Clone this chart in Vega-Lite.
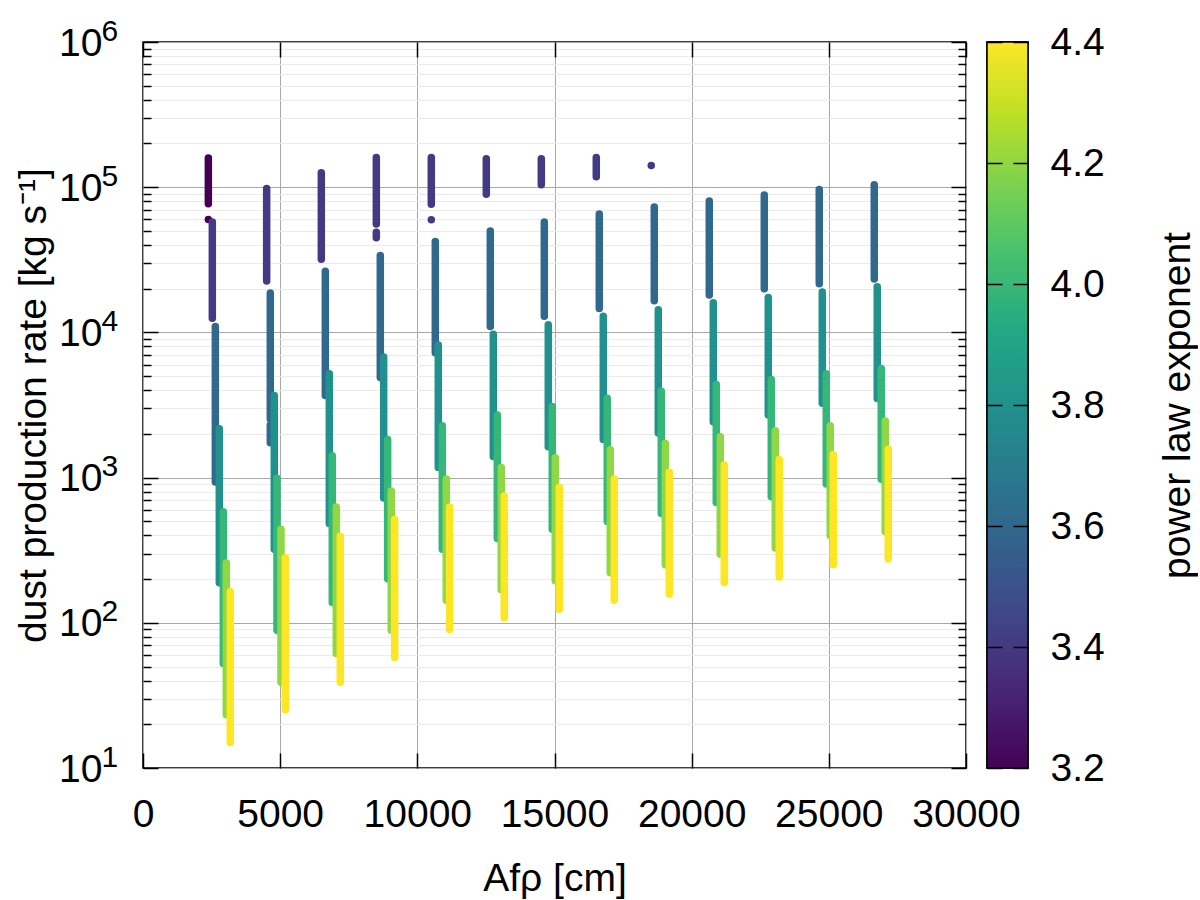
{
  "$schema": "https://vega.github.io/schema/vega-lite/v6.json",
  "padding": {"left": 13, "top": 15, "right": 0, "bottom": 0},
  "bounds": "flush",
  "spacing": 21,
  "datasets": {
    "strips": [
      {"a": 2382, "lo": 77000, "hi": 159000, "p": 3.2},
      {"a": 2382, "lo": 60000, "hi": 60000, "p": 3.2},
      {"a": 2527, "lo": 12500, "hi": 57700, "p": 3.4},
      {"a": 2637, "lo": 931, "hi": 11000, "p": 3.6},
      {"a": 2782, "lo": 189, "hi": 2170, "p": 3.8},
      {"a": 2928, "lo": 52.5, "hi": 582, "p": 4.0},
      {"a": 3036, "lo": 23.3, "hi": 258, "p": 4.2},
      {"a": 3182, "lo": 15.0, "hi": 164, "p": 4.4},
      {"a": 4508, "lo": 22600, "hi": 98000, "p": 3.4},
      {"a": 4640, "lo": 2530, "hi": 18700, "p": 3.6},
      {"a": 4640, "lo": 1740, "hi": 2300, "p": 3.6},
      {"a": 4786, "lo": 321, "hi": 3680, "p": 3.8},
      {"a": 4884, "lo": 89, "hi": 991, "p": 4.0},
      {"a": 5030, "lo": 39, "hi": 440, "p": 4.2},
      {"a": 5187, "lo": 25.2, "hi": 281, "p": 4.4},
      {"a": 6500, "lo": 31900, "hi": 126000, "p": 3.4},
      {"a": 6646, "lo": 3680, "hi": 26400, "p": 3.6},
      {"a": 6791, "lo": 483, "hi": 5200, "p": 3.8},
      {"a": 6900, "lo": 138, "hi": 1416, "p": 4.0},
      {"a": 7046, "lo": 61.4, "hi": 628, "p": 4.2},
      {"a": 7192, "lo": 39, "hi": 395, "p": 4.4},
      {"a": 8505, "lo": 55900, "hi": 160000, "p": 3.4},
      {"a": 8505, "lo": 44900, "hi": 49000, "p": 3.4},
      {"a": 8650, "lo": 4890, "hi": 33900, "p": 3.6},
      {"a": 8773, "lo": 724, "hi": 6760, "p": 3.8},
      {"a": 8918, "lo": 201, "hi": 1828, "p": 4.0},
      {"a": 9050, "lo": 89, "hi": 807, "p": 4.2},
      {"a": 9173, "lo": 57.7, "hi": 514, "p": 4.4},
      {"a": 10509, "lo": 76400, "hi": 160000, "p": 3.4},
      {"a": 10509, "lo": 59600, "hi": 59600, "p": 3.4},
      {"a": 10655, "lo": 7240, "hi": 42200, "p": 3.6},
      {"a": 10764, "lo": 1175, "hi": 8200, "p": 3.8},
      {"a": 10910, "lo": 321, "hi": 2275, "p": 4.0},
      {"a": 11055, "lo": 143, "hi": 979, "p": 4.2},
      {"a": 11176, "lo": 90, "hi": 628, "p": 4.4},
      {"a": 12514, "lo": 89400, "hi": 157000, "p": 3.4},
      {"a": 12660, "lo": 11000, "hi": 50000, "p": 3.6},
      {"a": 12769, "lo": 1400, "hi": 9700, "p": 3.8},
      {"a": 12915, "lo": 381, "hi": 2700, "p": 4.0},
      {"a": 13060, "lo": 169, "hi": 1175, "p": 4.2},
      {"a": 13169, "lo": 108, "hi": 748, "p": 4.4},
      {"a": 14519, "lo": 104000, "hi": 157000, "p": 3.4},
      {"a": 14628, "lo": 12900, "hi": 57700, "p": 3.6},
      {"a": 14773, "lo": 1634, "hi": 11300, "p": 3.8},
      {"a": 14919, "lo": 440, "hi": 3090, "p": 4.0},
      {"a": 15028, "lo": 195, "hi": 1372, "p": 4.2},
      {"a": 15174, "lo": 124, "hi": 859, "p": 4.4},
      {"a": 16523, "lo": 118000, "hi": 160000, "p": 3.4},
      {"a": 16632, "lo": 14600, "hi": 65400, "p": 3.6},
      {"a": 16778, "lo": 1828, "hi": 12900, "p": 3.8},
      {"a": 16924, "lo": 499, "hi": 3520, "p": 4.0},
      {"a": 17033, "lo": 221, "hi": 1555, "p": 4.2},
      {"a": 17179, "lo": 143, "hi": 979, "p": 4.4},
      {"a": 18527, "lo": 141000, "hi": 141000, "p": 3.4},
      {"a": 18637, "lo": 16500, "hi": 73100, "p": 3.6},
      {"a": 18783, "lo": 2030, "hi": 14300, "p": 3.8},
      {"a": 18892, "lo": 565, "hi": 3930, "p": 4.0},
      {"a": 19038, "lo": 251, "hi": 1717, "p": 4.2},
      {"a": 19184, "lo": 157, "hi": 1088, "p": 4.4},
      {"a": 20642, "lo": 18100, "hi": 80400, "p": 3.6},
      {"a": 20788, "lo": 2420, "hi": 16000, "p": 3.8},
      {"a": 20897, "lo": 673, "hi": 4370, "p": 4.0},
      {"a": 21043, "lo": 297, "hi": 1910, "p": 4.2},
      {"a": 21189, "lo": 189, "hi": 1219, "p": 4.4},
      {"a": 22647, "lo": 20000, "hi": 88300, "p": 3.6},
      {"a": 22793, "lo": 2700, "hi": 17400, "p": 3.8},
      {"a": 22902, "lo": 739, "hi": 4730, "p": 4.0},
      {"a": 23048, "lo": 328, "hi": 2100, "p": 4.2},
      {"a": 23193, "lo": 207, "hi": 1330, "p": 4.4},
      {"a": 24651, "lo": 21600, "hi": 96300, "p": 3.6},
      {"a": 24761, "lo": 3250, "hi": 19000, "p": 3.8},
      {"a": 24906, "lo": 902, "hi": 5200, "p": 4.0},
      {"a": 25052, "lo": 400, "hi": 2275, "p": 4.2},
      {"a": 25161, "lo": 251, "hi": 1443, "p": 4.4},
      {"a": 26656, "lo": 23300, "hi": 104000, "p": 3.6},
      {"a": 26765, "lo": 3510, "hi": 20600, "p": 3.8},
      {"a": 26911, "lo": 973, "hi": 5640, "p": 4.0},
      {"a": 27057, "lo": 426, "hi": 2450, "p": 4.2},
      {"a": 27166, "lo": 275, "hi": 1565, "p": 4.4}
    ],
    "bar": [{"lo": 3.2, "hi": 4.4, "l": 0, "r": 1}]
  },
  "hconcat": [
    {
      "width": 823,
      "height": 726,
      "data": {"name": "strips"},
      "layer": [
        {
          "mark": {"type": "rule", "opacity": 0},
          "encoding": {
            "x": {"field": "a", "type": "quantitative", "scale": {"domain": [0, 30000], "nice": false, "zero": false}, "axis": null},
            "y": {"field": "hi", "type": "quantitative", "scale": {"type": "log", "domain": [10, 1000000], "nice": false},
              "axis": {"orient": "left", "values": [20, 30, 40, 50, 60, 70, 80, 90, 200, 300, 400, 500, 600, 700, 800, 900, 2000, 3000, 4000, 5000, 6000, 7000, 8000, 9000, 20000, 30000, 40000, 50000, 60000, 70000, 80000, 90000, 200000, 300000, 400000, 500000, 600000, 700000, 800000, 900000],
                "labels": false, "tickSize": -8, "domain": false, "grid": true, "gridColor": "#ebebeb", "gridWidth": 1, "title": null}},
            "y2": {"field": "lo"}
          }
        },
        {
          "mark": {"type": "rule", "strokeWidth": 7.5, "strokeCap": "round"},
          "encoding": {
            "x": {"field": "a", "type": "quantitative", "scale": {"domain": [0, 30000], "nice": false, "zero": false},
              "axis": {"orient": "bottom", "values": [0, 5000, 10000, 15000, 20000, 25000, 30000], "format": "d", "ticks": false, "domain": false,
                "grid": true, "gridColor": "#a9a9a9", "gridWidth": 1, "labelPadding": 27, "title": "Afρ [cm]", "titlePadding": 25}},
            "y": {"field": "hi", "type": "quantitative", "scale": {"type": "log", "domain": [10, 1000000], "nice": false},
              "axis": {"orient": "left", "values": [10, 100, 1000, 10000, 100000, 1000000], "labelExpr": "'10'", "ticks": false, "domain": false,
                "grid": true, "gridColor": "#a9a9a9", "gridWidth": 1, "labelPadding": 41, "labelOffset": 1, "title": "dust production rate [kg s⁻¹]", "titlePadding": 5}},
            "y2": {"field": "lo"},
            "color": {"field": "p", "type": "quantitative", "scale": {"scheme": "viridis", "domain": [3.2, 4.4]}, "legend": null}
          }
        },
        {
          "mark": {"type": "rule", "opacity": 0},
          "encoding": {
            "x": {"field": "a", "type": "quantitative", "axis": {"orient": "bottom", "values": [0, 5000, 10000, 15000, 20000, 25000, 30000], "labels": false, "tickSize": -15, "domain": false, "grid": false, "title": null}},
            "y": {"field": "hi", "type": "quantitative", "axis": {"orient": "left", "values": [10, 100, 1000, 10000, 100000, 1000000], "labels": false, "tickSize": -15, "domain": false, "grid": false, "title": null}},
            "y2": {"field": "lo"}
          }
        },
        {
          "mark": {"type": "rule", "opacity": 0},
          "encoding": {
            "x": {"field": "a", "type": "quantitative", "axis": {"orient": "top", "values": [0, 5000, 10000, 15000, 20000, 25000, 30000], "labels": false, "tickSize": -15, "domain": false, "grid": false, "title": null}},
            "y": {"field": "hi", "type": "quantitative", "axis": {"orient": "right", "values": [10, 100, 1000, 10000, 100000, 1000000], "labels": false, "tickSize": -15, "domain": false, "grid": false, "title": null}},
            "y2": {"field": "lo"}
          }
        },
        {
          "mark": {"type": "rule", "opacity": 0},
          "encoding": {
            "x": {"field": "a", "type": "quantitative", "axis": null},
            "y": {"field": "hi", "type": "quantitative",
              "axis": {"orient": "right", "values": [20, 30, 40, 50, 60, 70, 80, 90, 200, 300, 400, 500, 600, 700, 800, 900, 2000, 3000, 4000, 5000, 6000, 7000, 8000, 9000, 20000, 30000, 40000, 50000, 60000, 70000, 80000, 90000, 200000, 300000, 400000, 500000, 600000, 700000, 800000, 900000],
                "labels": false, "tickSize": -8, "domain": false, "grid": false, "title": null}},
            "y2": {"field": "lo"}
          }
        },
        {
          "mark": {"type": "rule", "opacity": 0},
          "encoding": {
            "x": {"field": "a", "type": "quantitative", "axis": null},
            "y": {"field": "hi", "type": "quantitative",
              "axis": {"orient": "left", "values": [10, 100, 1000, 10000, 100000, 1000000], "ticks": false, "domain": false, "grid": false,
                "labelExpr": "'' + round(log(datum.value) / LN10)", "labelFontSize": 30, "labelAlign": "left", "labelPadding": 42, "labelOffset": -11, "title": null}},
            "y2": {"field": "lo"}
          }
        }
      ],
      "resolve": {"axis": {"x": "independent", "y": "independent"}}
    },
    {
      "width": 41,
      "height": 726,
      "data": {"name": "bar"},
      "encoding": {
        "x": {"field": "l", "type": "quantitative", "scale": {"domain": [0, 1], "nice": false, "zero": false}, "axis": null},
        "x2": {"field": "r"},
        "y2": {"field": "hi"}
      },
      "layer": [
        {
          "mark": {"type": "rect", "stroke": "black", "strokeWidth": 1.5,
            "fill": {"gradient": "linear", "x1": 0, "y1": 1, "x2": 0, "y2": 0,
              "stops": [
                {"offset": 0, "color": "#440154"}, {"offset": 0.1, "color": "#482475"}, {"offset": 0.2, "color": "#414487"},
                {"offset": 0.3, "color": "#355f8d"}, {"offset": 0.4, "color": "#2a788e"}, {"offset": 0.5, "color": "#21918c"},
                {"offset": 0.6, "color": "#22a884"}, {"offset": 0.7, "color": "#44bf70"}, {"offset": 0.8, "color": "#7ad151"},
                {"offset": 0.9, "color": "#bddf26"}, {"offset": 1, "color": "#fde725"}
              ]}},
          "encoding": {
            "y": {"field": "lo", "type": "quantitative", "scale": {"domain": [3.2, 4.4], "nice": false, "zero": false},
              "axis": {"orient": "right", "values": [3.2, 3.4, 3.6, 3.8, 4.0, 4.2, 4.4], "format": ".1f", "ticks": false, "domain": false, "grid": false,
                "labelPadding": 22, "title": "power law exponent", "titleAngle": 270, "titleBaseline": "top", "titlePadding": 54, "zindex": 1}}
          }
        },
        {
          "mark": {"type": "rect", "opacity": 0},
          "encoding": {
            "y": {"field": "lo", "type": "quantitative", "axis": {"orient": "left", "values": [3.2, 3.4, 3.6, 3.8, 4.0, 4.2, 4.4], "labels": false, "tickSize": -15, "domain": false, "grid": false, "title": null, "zindex": 1}}
          }
        },
        {
          "mark": {"type": "rect", "opacity": 0},
          "encoding": {
            "y": {"field": "lo", "type": "quantitative", "axis": {"orient": "right", "values": [3.2, 3.4, 3.6, 3.8, 4.0, 4.2, 4.4], "labels": false, "tickSize": -15, "domain": false, "grid": false, "title": null, "zindex": 1}}
          }
        }
      ],
      "resolve": {"axis": {"y": "independent"}}
    }
  ],
  "config": {
    "font": "Liberation Sans",
    "view": {"stroke": "black", "strokeWidth": 1.5},
    "axis": {
      "labelFont": "Liberation Sans",
      "titleFont": "Liberation Sans",
      "labelFontSize": 39,
      "titleFontSize": 39,
      "titleFontWeight": "normal",
      "labelColor": "black",
      "titleColor": "black",
      "tickColor": "black",
      "tickWidth": 1.5,
      "domainColor": "black",
      "labelFlush": false,
      "labelOverlap": false
    }
  }
}
